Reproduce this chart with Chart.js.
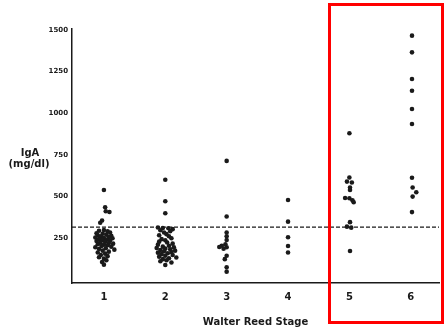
<!DOCTYPE html>
<html>
<head>
<meta charset="utf-8">
<script src="https://cdn.jsdelivr.net/npm/chart.js@4/dist/chart.umd.min.js"></script>
<style>
    body { margin: 0; background: #fff; }
    #wrap { width: 446px; height: 329px; position: relative; }
</style>
</head>
<body>
<div id="wrap"><canvas id="myChart"></canvas></div>
<script>
// stage tick labels and y tick labels
const stages = [1, 2, 3, 4, 5, 6];
const yTicks = [250, 500, 750, 1000, 1250, 1500];
const cutoff = 317; // dashed reference line, mg/dl

// each point: [x jitter from the stage position, IgA mg/dl]
const stage1 = [
    [0.00, 540], [0.02, 436], [0.03, 412], [0.09, 408], [-0.03, 357], [-0.06, 343],
    [0.00, 300], [-0.08, 295], [0.06, 292], [0.10, 285], [-0.12, 280], [-0.02, 278],
    [0.04, 272], [-0.10, 268], [0.12, 265], [-0.05, 262], [0.08, 258], [-0.14, 255],
    [0.00, 252], [0.14, 250], [-0.08, 246], [0.05, 243], [-0.03, 240], [0.10, 237],
    [-0.12, 234], [0.02, 230], [-0.06, 226], [0.08, 222], [0.15, 218], [-0.10, 215],
    [0.00, 212], [0.06, 208], [-0.04, 204], [0.12, 200], [-0.14, 196], [0.03, 190],
    [-0.08, 186], [0.17, 182], [-0.02, 176], [0.08, 170], [-0.10, 165], [0.02, 158],
    [-0.05, 150], [0.06, 143], [-0.08, 136], [0.00, 128], [0.04, 118], [-0.03, 108],
    [0.00, 92],
];
const stage2 = [
    [0.00, 601], [0.00, 472], [0.00, 400],
    [-0.12, 315], [-0.04, 312], [0.05, 310], [0.12, 305], [-0.08, 298], [0.08, 292],
    [-0.02, 285], [0.02, 275], [-0.10, 268], [0.06, 262], [0.10, 250], [-0.06, 245],
    [0.00, 238], [-0.10, 230], [0.03, 225], [0.12, 218], [-0.12, 212], [0.06, 205],
    [-0.04, 200], [0.14, 196], [-0.14, 192], [0.00, 188], [0.08, 184], [-0.08, 180],
    [0.16, 176], [-0.02, 172], [0.10, 168], [-0.12, 164], [0.04, 160], [-0.06, 155],
    [0.12, 150], [0.00, 145], [-0.10, 140], [0.18, 135], [0.06, 130], [-0.04, 125],
    [0.02, 118], [-0.08, 112], [0.10, 105], [0.00, 90],
];
const stage3 = [
    [0.00, 714], [0.00, 381], [0.00, 285], [0.00, 262], [0.00, 240], [-0.02, 214],
    [-0.08, 205], [-0.12, 198], [0.00, 196], [-0.05, 188], [0.00, 145], [-0.03, 125],
    [0.00, 76], [0.00, 50],
];
const stage4 = [
    [0.00, 480], [0.00, 350], [0.00, 256], [0.00, 204], [0.00, 165],
];
const stage5 = [
    [0.00, 880], [0.00, 615], [-0.04, 590], [0.04, 585], [0.01, 555], [0.01, 540],
    [-0.07, 492], [0.00, 490], [0.05, 478], [0.07, 466], [0.01, 347], [-0.04, 320],
    [0.03, 314], [0.01, 174],
];
const stage6 = [
    [0.02, 1465], [0.02, 1365], [0.02, 1205], [0.02, 1135], [0.02, 1025], [0.02, 935],
    [0.02, 613], [0.03, 555], [0.09, 526], [0.03, 500], [0.02, 407],
];

const groups = [stage1, stage2, stage3, stage4, stage5, stage6];
const ink = '#1a1a1a';
const font = 'DejaVu Sans';
const xMin = 0.48, xMax = 6.46;

const datasets = groups.map((pts, i) => ({
    type: 'scatter',
    data: pts.map(p => ({ x: stages[i] + p[0], y: p[1] })),
    backgroundColor: ink,
    borderWidth: 0,
    pointRadius: 2.3,
}));

datasets.push({
    type: 'line',
    data: [{ x: xMin, y: cutoff }, { x: xMax, y: cutoff }],
    borderColor: ink,
    borderWidth: 1.4,
    borderDash: [4, 2],
    pointRadius: 0,
});

// y title (horizontal) and the red highlight frame
const extras = {
    id: 'extras',
    afterDraw(chart) {
        const ctx = chart.ctx;
        ctx.save();
        ctx.fillStyle = ink;
        ctx.font = 'bold 10px "' + font + '"';
        ctx.textAlign = 'center';
        ctx.textBaseline = 'middle';
        ctx.fillText('IgA', 30, 153);
        ctx.fillText('(mg/dl)', 29, 164);
        ctx.strokeStyle = '#ff0000';
        ctx.lineWidth = 3;
        ctx.strokeRect(329.5, 4.5, 113, 318);
        ctx.restore();
    }
};

const config = {
    data: { datasets: datasets },
    options: {
        responsive: true,
        maintainAspectRatio: false,
        animation: false,
        layout: { padding: { top: 29, right: 7, bottom: 0, left: 0 } },
        plugins: { legend: { display: false }, tooltip: { enabled: false } },
        scales: {
            x: {
                type: 'linear',
                min: xMin,
                max: xMax,
                afterBuildTicks: s => { s.ticks = stages.map(v => ({ value: v })); },
                afterFit: s => { s.height = 46; },
                grid: { display: false, drawTicks: false },
                border: { display: true, color: ink, width: 1.5 },
                ticks: {
                    color: ink,
                    font: { family: font, size: 10, weight: 'bold' },
                    padding: 8,
                    callback: v => String(v),
                },
                title: {
                    display: true,
                    text: 'Walter Reed Stage',
                    color: ink,
                    font: { family: font, size: 10, weight: 'bold' },
                    padding: { top: 0, bottom: 1 },
                },
            },
            y: {
                min: -18,
                max: 1505,
                afterBuildTicks: s => { s.ticks = yTicks.map(v => ({ value: v })); },
                afterFit: s => { s.width = 72; },
                grid: { display: false, drawTicks: false },
                border: { display: true, color: ink, width: 1.5 },
                ticks: {
                    color: ink,
                    font: { family: font, size: 7, weight: 'bold' },
                    padding: 4,
                    callback: v => String(v),
                },
            },
        },
    },
    plugins: [extras],
};

const myChart = new Chart(document.getElementById('myChart'), config);
</script>
</body>
</html>
